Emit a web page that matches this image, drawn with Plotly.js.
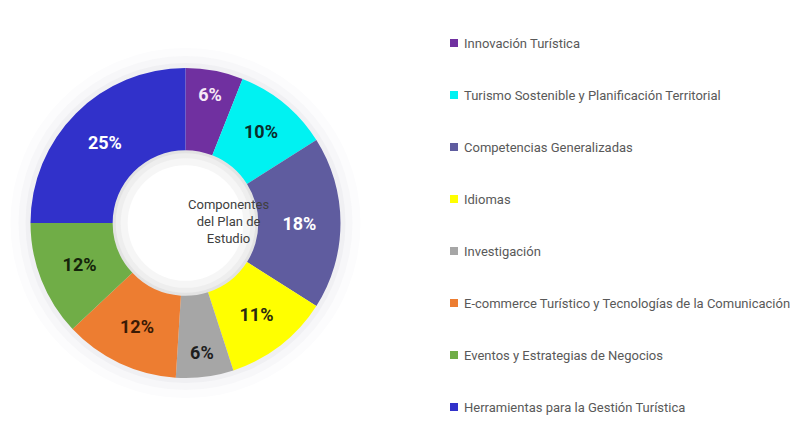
<!DOCTYPE html>
<html>
<head>
<meta charset="utf-8">
<script src="https://cdn.plot.ly/plotly-3.0.1.min.js"></script>
<style>html,body{margin:0;padding:0;background:#fff}#chart{width:795px;height:439px}</style>
</head>
<body>
<div id="chart"></div>
<script>
const categories = [
  "Innovación Turística",
  "Turismo Sostenible y Planificación Territorial",
  "Competencias Generalizadas",
  "Idiomas",
  "Investigación",
  "E-commerce Turístico y Tecnologías de la Comunicación",
  "Eventos y Estrategias de Negocios",
  "Herramientas para la Gestión Turística"
];
const percentages = [6, 10, 18, 11, 6, 12, 12, 25];
const sliceColors = ["#7030A0", "#00F2F2", "#5F5C9F", "#FFFF00", "#A6A6A6", "#ED7D31", "#70AD47", "#3131CA"];
const labelColors = ["#F6E8F6", "#0B2B2B", "#FFFFFF", "#2A2A10", "#1E1E1E", "#3A1A05", "#14240A", "#FFFFFF"];
const centerTitle = "Componentes<br>del Plan de<br>Estudio";

const FONT = "Roboto, Liberation Sans, sans-serif";
const W = 795, H = 439;
const cx = 185.5, cy = 223, R = 155, holeFrac = 0.47;
const px = x => x / W, py = y => 1 - y / H;

function circle(r, fill) {
  return {type: "circle", xref: "paper", yref: "paper", layer: "below",
    x0: px(cx - r), x1: px(cx + r), y0: py(cy + r), y1: py(cy - r),
    fillcolor: fill, line: {width: 0}};
}

const shapes = [
  circle(R + 20, "#fcfcfd"),
  circle(R + 12, "#f7f7f9"),
  circle(R + 5, "#f0f0f3"),
  circle(R * holeFrac + 1, "#e3e3e3"),
  circle(R * holeFrac - 3, "#eeeeee"),
  circle(R * holeFrac - 8, "#f6f6f6"),
  circle(R * holeFrac - 15, "#ffffff")
];

const annotations = [{
  x: px(cx), y: py(cy - 2), xref: "paper", yref: "paper", showarrow: false,
  text: centerTitle, align: "center",
  font: {family: FONT, size: 13, color: "#404040"}
}];

const legendTop = 43, legendStep = 52, legendMarkX = 450, legendTextX = 462;
categories.forEach((c, i) => {
  const y = legendTop + i * legendStep;
  shapes.push({type: "rect", xref: "paper", yref: "paper",
    x0: px(legendMarkX), x1: px(legendMarkX + 8), y0: py(y + 4), y1: py(y - 4),
    fillcolor: sliceColors[i], line: {width: 0}});
  annotations.push({x: px(legendTextX), y: py(y), xref: "paper", yref: "paper",
    xanchor: "left", yanchor: "middle", showarrow: false, text: c,
    font: {family: FONT, size: 13, color: "#595959"}});
});

const trace = {
  type: "pie",
  labels: categories,
  values: percentages,
  hole: holeFrac,
  sort: false,
  direction: "clockwise",
  rotation: 0,
  marker: {colors: sliceColors, line: {width: 0}},
  texttemplate: "%{value}%",
  textposition: "inside",
  insidetextorientation: "horizontal",
  textfont: {family: FONT, size: 18, color: labelColors, weight: "bold"},
  hoverinfo: "label+percent",
  showlegend: false,
  domain: {x: [px(cx - R), px(cx + R)], y: [py(cy + R), py(cy - R)]}
};

Plotly.newPlot("chart", [trace], {
  width: W, height: H,
  margin: {l: 0, r: 0, t: 0, b: 0},
  paper_bgcolor: "#ffffff",
  showlegend: false,
  shapes: shapes,
  annotations: annotations
}, {displayModeBar: false, staticPlot: true});
</script>
</body>
</html>
